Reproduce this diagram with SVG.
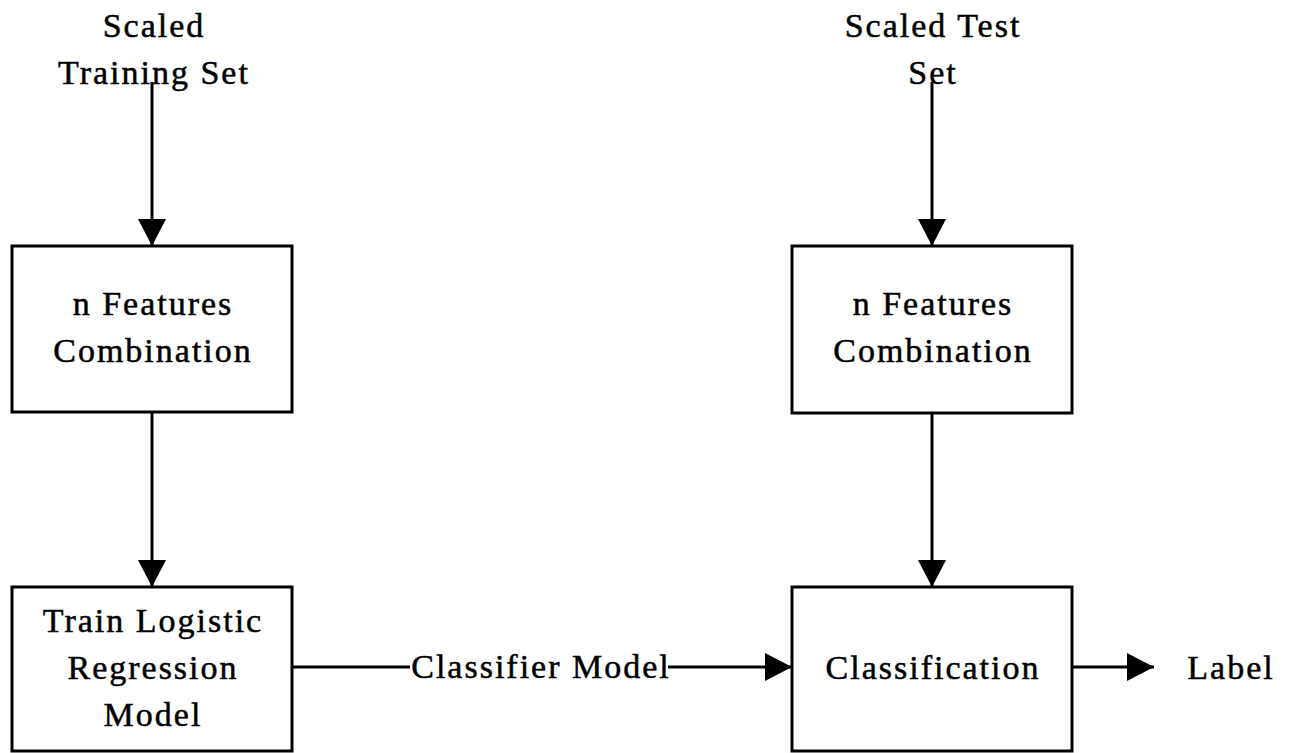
<svg xmlns="http://www.w3.org/2000/svg" width="1290" height="753" viewBox="0 0 1290 753">
<style>
text{font-family:"Liberation Serif","Times New Roman",serif;font-size:34px;fill:#000;stroke:#000;stroke-width:0.5;text-anchor:middle;letter-spacing:2px}
.box{fill:#fff;stroke:#000;stroke-width:3}
.ln{stroke:#000;stroke-width:3;fill:none}
</style>
<defs>
<marker id="ah" markerUnits="userSpaceOnUse" markerWidth="28" markerHeight="28" refX="27" refY="14" orient="auto">
<path d="M0,0 L27,14 L0,28 Z" fill="#000"/>
</marker>
</defs>
<rect width="1290" height="753" fill="#fff"/>
<g id="connectors">
<line class="ln" x1="152" y1="82" x2="152" y2="246" marker-end="url(#ah)"/>
<line class="ln" x1="152" y1="412" x2="152" y2="587" marker-end="url(#ah)"/>
<line class="ln" x1="932" y1="82" x2="932" y2="246" marker-end="url(#ah)"/>
<line class="ln" x1="932" y1="413" x2="932" y2="587" marker-end="url(#ah)"/>
<line class="ln" x1="292" y1="667" x2="410" y2="667"/>
<line class="ln" x1="668" y1="667" x2="792" y2="667" marker-end="url(#ah)"/>
<line class="ln" x1="1072" y1="667" x2="1154" y2="667" marker-end="url(#ah)"/>
<text x="541" y="678">Classifier Model</text>
</g>
<g id="scaled-training"><text x="154" y="37">Scaled</text><text x="154" y="84">Training Set</text></g>
<g id="scaled-test"><text x="933" y="37">Scaled Test</text><text x="933" y="84">Set</text></g>
<g id="features-left"><rect class="box" x="12" y="246" width="280" height="166"/><text x="153" y="315">n Features</text><text x="153" y="362">Combination</text></g>
<g id="features-right"><rect class="box" x="792" y="246" width="280" height="167"/><text x="933" y="315">n Features</text><text x="933" y="362">Combination</text></g>
<g id="train"><rect class="box" x="12" y="587" width="280" height="164"/><text x="153" y="632">Train Logistic</text><text x="153" y="679">Regression</text><text x="153" y="726">Model</text></g>
<g id="classification"><rect class="box" x="792" y="587" width="280" height="164"/><text x="933" y="679">Classification</text></g>
<g id="label"><text x="1231" y="679">Label</text></g>
</svg>
